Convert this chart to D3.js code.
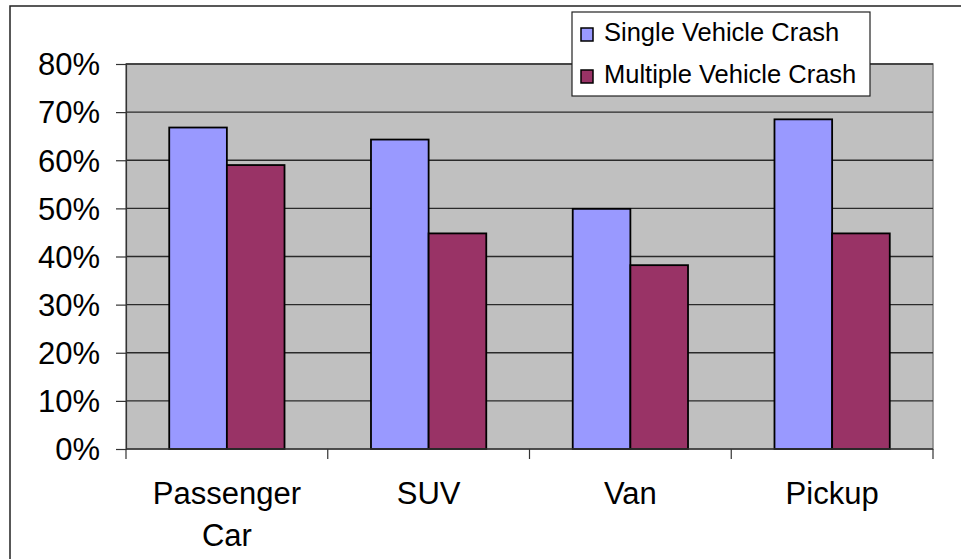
<!DOCTYPE html>
<html>
<head>
<meta charset="utf-8">
<script src="https://cdn.jsdelivr.net/npm/d3@7"></script>
<style>
	body { margin: 0; background: #fff; }
	text { font-family: "Liberation Sans", Arial, sans-serif; fill: #000; }
</style>
</head>
<body>
<script>
const categories = [["Passenger", "Car"], ["SUV"], ["Van"], ["Pickup"]];
const seriesNames = ["Single Vehicle Crash", "Multiple Vehicle Crash"];
const singleVehicle = [0.668, 0.643, 0.499, 0.685];
const multipleVehicle = [0.59, 0.448, 0.382, 0.448];
const yTicks = [0, 0.1, 0.2, 0.3, 0.4, 0.5, 0.6, 0.7, 0.8];

const svgWidth = 961;
const svgHeight = 559;
const plot = { left: 126, right: 933, top: 64, bottom: 449 };

const svg = d3.select("body")
	.append("svg")
	.attr("width", svgWidth)
	.attr("height", svgHeight);

// outer chart frame (runs off the right and bottom edges)
svg.append("rect")
	.attr("x", 10).attr("y", 6)
	.attr("width", 980).attr("height", 600)
	.attr("fill", "none")
	.attr("stroke", "#222")
	.attr("stroke-width", 1.5);

const catKeys = categories.map((c) => c.join(" "));

const xScale = d3.scaleBand()
	.domain(catKeys)
	.range([plot.left, plot.right]);

// excel-ish gap width: 1.5 bar widths between groups
const barW = xScale.bandwidth() / 3.5;
const xInner = d3.scaleBand()
	.domain(seriesNames)
	.range([0, barW * 2]);

const yScale = d3.scaleLinear()
	.domain([0, 0.8])
	.range([plot.bottom, plot.top]);

const colorScale = d3.scaleOrdinal()
	.domain(seriesNames)
	.range(["#9999FF", "#993366"]);

// plot background
svg.append("rect")
	.attr("x", plot.left).attr("y", plot.top)
	.attr("width", plot.right - plot.left)
	.attr("height", plot.bottom - plot.top)
	.attr("fill", "#C0C0C0")
	.attr("stroke", "#808080")
	.attr("stroke-width", 1.5);

// gridlines
svg.append("g")
	.selectAll("line")
	.data(yTicks.slice(1))
	.join("line")
	.attr("x1", plot.left).attr("x2", plot.right)
	.attr("y1", (d) => yScale(d)).attr("y2", (d) => yScale(d))
	.attr("stroke", "#2a2a2a")
	.attr("stroke-width", 1.3);

// bars
const data = catKeys.map((k, i) => [
	{ cat: k, series: seriesNames[0], value: singleVehicle[i] },
	{ cat: k, series: seriesNames[1], value: multipleVehicle[i] },
]);

svg.append("g")
	.selectAll("g")
	.data(data)
	.join("g")
	.attr("transform", (d) => `translate(${xScale(d[0].cat) + (xScale.bandwidth() - barW * 2) / 2} 0)`)
	.selectAll("rect")
	.data((d) => d)
	.join("rect")
	.attr("x", (d) => xInner(d.series))
	.attr("y", (d) => yScale(d.value))
	.attr("width", xInner.bandwidth())
	.attr("height", (d) => plot.bottom - yScale(d.value))
	.attr("fill", (d) => colorScale(d.series))
	.attr("stroke", "#000")
	.attr("stroke-width", 1.8);

// y axis
const yAxis = svg.append("g")
	.attr("transform", `translate(${plot.left} 0)`)
	.call(d3.axisLeft(yScale).tickValues(yTicks).tickFormat(d3.format(".0%")).tickSize(10).tickPadding(16));
yAxis.select(".domain").attr("stroke", "#333").attr("stroke-width", 1.2);
yAxis.selectAll(".tick line").attr("stroke", "#333").attr("stroke-width", 1.2);
yAxis.selectAll("text")
	.style("font-size", "31px")
	.attr("dy", "0.35em");

// x axis
const xAxis = svg.append("g")
	.attr("transform", `translate(0 ${plot.bottom})`);
xAxis.append("line")
	.attr("x1", plot.left).attr("x2", plot.right)
	.attr("stroke", "#333").attr("stroke-width", 1.5);
xAxis.selectAll(".xtick")
	.data(d3.range(catKeys.length + 1))
	.join("line")
	.attr("class", "xtick")
	.attr("x1", (i) => plot.left + i * xScale.step())
	.attr("x2", (i) => plot.left + i * xScale.step())
	.attr("y1", 0).attr("y2", 10)
	.attr("stroke", "#333").attr("stroke-width", 1.2);

xAxis.selectAll(".xlabel")
	.data(categories)
	.join("text")
	.attr("class", "xlabel")
	.attr("text-anchor", "middle")
	.style("font-size", "31px")
	.attr("transform", (d, i) => `translate(${xScale(catKeys[i]) + xScale.bandwidth() / 2} 55)`)
	.selectAll("tspan")
	.data((d) => d)
	.join("tspan")
	.attr("x", 0)
	.attr("y", (d, i) => i * 42)
	.text((d) => d);

// legend
const legend = svg.append("g").attr("transform", "translate(572 12)");
legend.append("rect")
	.attr("width", 298).attr("height", 84)
	.attr("fill", "#fff")
	.attr("stroke", "#222").attr("stroke-width", 1.2);

seriesNames.forEach((name, i) => {
	const row = legend.append("g").attr("transform", `translate(0 ${i * 42})`);
	row.append("rect")
		.attr("x", 9).attr("y", 16)
		.attr("width", 12).attr("height", 13)
		.attr("fill", colorScale(name))
		.attr("stroke", "#000").attr("stroke-width", 1.5);
	row.append("text")
		.attr("x", 32).attr("y", 29)
		.style("font-size", "25.5px")
		.text(name);
});
</script>
</body>
</html>
